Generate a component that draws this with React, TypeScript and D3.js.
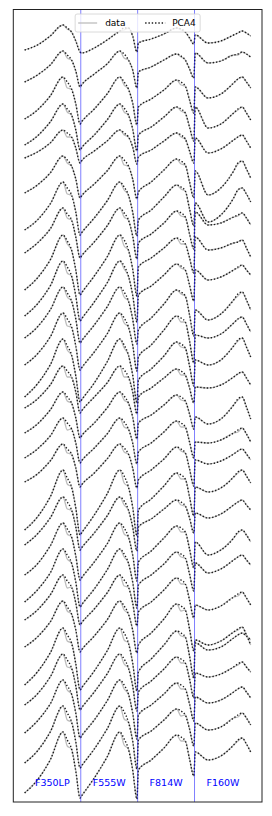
import React from "react";
import * as d3 from "d3";

// Filters (bands) concatenated along the x axis, 40 epochs each
const filters = ["F350LP", "F555W", "F814W", "F160W"];
const epochsPerFilter = 40;
const sampleEpochs = [0, 9, 18, 27, 30, 33, 36, 39];

// PCA4 reconstruction, offset magnitude per object (rows), per filter
const pcaF350LP = [
  [5.0, 4.5, 3.6, 2.5, 2.8, 3.2, 4.1, 5.2],
  [8.2, 7.5, 6.5, 5.1, 5.5, 6.0, 7.1, 8.7],
  [11.9, 11.0, 9.6, 7.7, 8.2, 8.9, 10.4, 12.4],
  [14.5, 13.6, 12.2, 10.4, 10.9, 11.5, 13.0, 15.0],
  [15.8, 15.2, 14.3, 13.0, 13.3, 13.7, 14.8, 16.3],
  [19.3, 18.5, 17.3, 15.6, 16.0, 16.6, 17.9, 19.8],
  [23.0, 22.0, 20.4, 18.2, 18.8, 19.5, 21.2, 23.5],
  [25.3, 24.3, 22.9, 20.8, 21.4, 22.0, 23.7, 25.8],
  [29.0, 27.8, 26.0, 23.5, 24.1, 25.0, 27.0, 29.5],
  [31.6, 30.4, 28.6, 26.1, 26.7, 27.6, 29.6, 32.1],
  [33.8, 32.7, 31.0, 28.7, 29.3, 30.1, 31.9, 34.3],
  [36.5, 35.4, 33.7, 31.3, 31.9, 32.7, 34.6, 37.0],
  [39.7, 38.4, 36.5, 33.9, 34.6, 35.5, 37.6, 40.2],
  [40.8, 39.9, 38.5, 36.6, 37.1, 37.7, 39.2, 41.3],
  [43.3, 42.4, 41.0, 39.2, 39.7, 40.3, 41.8, 43.8],
  [45.8, 44.9, 43.6, 41.8, 42.3, 42.9, 44.3, 46.3],
  [48.2, 47.4, 46.1, 44.4, 44.9, 45.4, 46.8, 48.7],
  [53.0, 51.7, 49.7, 47.0, 47.8, 48.7, 50.8, 53.5],
  [54.5, 53.4, 51.8, 49.7, 50.2, 51.0, 52.7, 55.0],
  [57.5, 56.4, 54.6, 52.3, 52.9, 53.7, 55.6, 58.0],
  [60.2, 59.0, 57.3, 54.9, 55.5, 56.3, 58.2, 60.7],
  [62.0, 61.0, 59.5, 57.5, 58.1, 58.7, 60.3, 62.5],
  [64.7, 63.7, 62.2, 60.1, 60.7, 61.4, 63.0, 65.2],
  [68.5, 67.2, 65.3, 62.8, 63.5, 64.3, 66.4, 69.0],
  [70.5, 69.4, 67.7, 65.4, 66.0, 66.8, 68.6, 71.0],
  [73.3, 72.1, 70.4, 68.0, 68.6, 69.4, 71.3, 73.8],
  [76.3, 75.1, 73.2, 70.6, 71.3, 72.2, 74.2, 76.8],
  [79.3, 78.0, 76.0, 73.2, 74.0, 74.9, 77.1, 79.8],
];

const pcaF555W = [
  [5.3, 4.8, 4.0, 3.1, 2.8, 2.8, 3.6, 5.2],
  [8.5, 7.4, 6.4, 5.1, 5.4, 6.0, 7.0, 8.8],
  [12.2, 10.9, 9.4, 7.7, 8.2, 8.9, 10.3, 12.5],
  [14.8, 13.5, 12.0, 10.4, 10.8, 11.5, 12.9, 15.1],
  [16.1, 15.1, 14.1, 13.0, 13.3, 13.7, 14.7, 16.4],
  [19.6, 18.4, 17.1, 15.6, 16.0, 16.6, 17.9, 19.9],
  [23.3, 21.8, 20.1, 18.2, 18.7, 19.5, 21.2, 23.6],
  [25.6, 24.2, 22.6, 20.8, 21.3, 22.0, 23.6, 25.9],
  [29.3, 27.6, 25.7, 23.5, 24.0, 25.0, 26.9, 29.6],
  [31.9, 30.2, 28.3, 26.1, 26.6, 27.6, 29.5, 32.2],
  [34.1, 32.5, 30.7, 28.7, 29.2, 30.1, 31.9, 34.4],
  [36.8, 35.2, 33.4, 31.3, 31.8, 32.7, 34.5, 37.1],
  [40.0, 38.3, 36.2, 33.9, 34.5, 35.5, 37.5, 40.3],
  [41.1, 39.7, 38.3, 36.6, 37.0, 37.7, 39.2, 41.4],
  [43.6, 42.3, 40.8, 39.2, 39.6, 40.3, 41.7, 43.9],
  [46.1, 44.8, 43.4, 41.8, 42.2, 42.9, 44.3, 46.4],
  [48.5, 47.3, 45.9, 44.4, 44.8, 45.4, 46.8, 48.8],
  [53.3, 51.5, 49.4, 47.0, 47.6, 48.7, 50.7, 53.6],
  [54.8, 53.3, 51.6, 49.7, 50.1, 51.0, 52.7, 55.1],
  [57.8, 56.2, 54.4, 52.3, 52.8, 53.7, 55.5, 58.1],
  [60.5, 58.9, 57.0, 54.9, 55.4, 56.3, 58.2, 60.8],
  [62.3, 60.9, 59.3, 57.5, 58.0, 58.7, 60.3, 62.6],
  [65.0, 63.6, 62.0, 60.1, 60.6, 61.4, 63.0, 65.3],
  [68.8, 67.1, 65.1, 62.8, 63.3, 64.3, 66.3, 69.1],
  [70.8, 69.2, 67.4, 65.4, 65.9, 66.8, 68.6, 71.1],
  [73.6, 72.0, 70.1, 68.0, 68.5, 69.4, 71.3, 73.9],
  [76.6, 74.9, 72.9, 70.6, 71.2, 72.2, 74.1, 76.9],
  [79.6, 77.8, 75.7, 73.2, 73.9, 74.9, 77.0, 79.9],
];

const pcaF814W = [
  [4.3, 3.9, 3.4, 2.8, 2.9, 3.2, 3.8, 4.4],
  [7.2, 6.7, 6.0, 5.4, 5.6, 6.0, 6.9, 7.8],
  [10.7, 9.9, 9.0, 8.0, 8.2, 8.6, 10.0, 11.3],
  [13.5, 12.7, 11.7, 10.7, 10.9, 11.3, 12.7, 14.1],
  [15.7, 15.0, 14.1, 13.3, 13.5, 13.9, 15.1, 16.3],
  [19.2, 18.2, 17.0, 15.9, 16.1, 16.5, 18.2, 19.8],
  [22.0, 21.0, 19.7, 18.5, 18.7, 19.1, 20.9, 22.6],
  [24.3, 23.4, 22.3, 21.1, 21.3, 21.7, 23.4, 24.9],
  [26.7, 25.8, 24.8, 23.8, 24.0, 24.4, 25.8, 27.3],
  [29.5, 28.6, 27.5, 26.4, 26.6, 27.0, 28.5, 30.1],
  [33.0, 31.8, 30.4, 29.0, 29.2, 29.6, 31.5, 33.6],
  [35.7, 34.5, 33.0, 31.6, 31.8, 32.2, 34.1, 36.3],
  [38.0, 36.9, 35.6, 34.2, 34.4, 34.8, 36.6, 38.6],
  [39.7, 38.8, 37.8, 36.9, 37.1, 37.5, 38.8, 40.3],
  [42.3, 41.5, 40.5, 39.5, 39.7, 40.1, 41.4, 42.9],
  [45.2, 44.3, 43.2, 42.1, 42.3, 42.7, 44.2, 45.8],
  [48.0, 47.0, 45.9, 44.7, 44.9, 45.3, 46.9, 48.6],
  [51.0, 49.9, 48.6, 47.3, 47.5, 47.9, 49.7, 51.6],
  [52.7, 51.9, 50.9, 50.0, 50.2, 50.6, 51.8, 53.3],
  [56.2, 55.1, 53.8, 52.6, 52.8, 53.2, 54.9, 56.8],
  [58.5, 57.5, 56.4, 55.2, 55.4, 55.8, 57.4, 59.1],
  [61.2, 60.2, 59.0, 57.8, 58.0, 58.4, 60.0, 61.8],
  [64.5, 63.3, 61.9, 60.4, 60.6, 61.0, 62.9, 65.1],
  [67.2, 65.9, 64.5, 63.1, 63.3, 63.7, 65.6, 67.8],
  [69.2, 68.1, 66.9, 65.7, 65.9, 66.3, 67.9, 69.8],
  [71.5, 70.5, 69.4, 68.3, 68.5, 68.9, 70.4, 72.1],
  [74.0, 73.1, 72.0, 70.9, 71.1, 71.5, 72.9, 74.6],
  [77.0, 76.0, 74.8, 73.5, 73.7, 74.1, 75.9, 77.6],
];

const pcaF160W = [
  [3.5, 4.3, 4.1, 3.5, 3.3, 3.1, 3.3, 3.6],
  [5.3, 6.3, 6.1, 5.5, 5.4, 5.2, 5.4, 5.7],
  [8.7, 9.8, 9.4, 8.3, 7.9, 7.7, 8.2, 8.8],
  [10.7, 12.8, 12.4, 11.3, 10.9, 10.7, 11.3, 12.0],
  [13.8, 15.3, 14.9, 14.0, 13.7, 13.5, 14.1, 14.8],
  [17.1, 19.5, 18.8, 17.1, 16.3, 16.1, 16.9, 17.8],
  [20.3, 22.2, 21.5, 19.8, 19.0, 18.8, 19.4, 20.2],
  [21.2, 22.5, 22.3, 21.7, 21.5, 21.3, 21.8, 22.5],
  [23.7, 25.0, 24.8, 24.3, 24.2, 24.0, 24.8, 25.7],
  [27.0, 28.0, 27.7, 27.0, 26.7, 26.5, 27.0, 27.5],
  [31.0, 32.0, 31.4, 30.0, 29.4, 29.2, 30.0, 31.0],
  [33.5, 33.8, 33.4, 32.3, 31.9, 31.7, 32.4, 33.2],
  [36.0, 36.5, 36.0, 34.6, 34.0, 33.8, 34.7, 35.7],
  [38.7, 38.8, 38.5, 37.7, 37.4, 37.2, 37.8, 38.5],
  [41.7, 42.4, 41.9, 40.5, 39.9, 39.7, 40.7, 41.9],
  [44.2, 44.3, 44.0, 43.3, 43.0, 42.8, 43.4, 44.2],
  [46.0, 46.4, 46.1, 45.4, 45.1, 44.9, 45.4, 46.0],
  [48.7, 49.2, 48.8, 47.7, 47.2, 47.0, 47.6, 48.3],
  [51.3, 51.8, 51.4, 50.5, 50.2, 50.0, 50.5, 51.0],
  [54.2, 55.5, 55.0, 53.8, 53.2, 53.0, 53.5, 54.2],
  [56.3, 57.3, 56.9, 56.0, 55.7, 55.5, 56.0, 56.5],
  [60.5, 61.0, 60.6, 59.7, 59.4, 59.2, 59.8, 60.5],
  [64.0, 64.5, 64.1, 63.2, 62.9, 62.7, 63.5, 64.5],
  [64.3, 65.0, 64.7, 63.8, 63.5, 63.3, 63.6, 64.0],
  [67.3, 67.7, 67.4, 66.7, 66.4, 66.2, 66.7, 67.2],
  [69.7, 70.3, 70.0, 69.2, 68.9, 68.7, 69.2, 69.8],
  [72.3, 73.0, 72.7, 71.8, 71.5, 71.3, 71.8, 72.5],
  [75.2, 76.0, 75.6, 74.5, 74.0, 73.8, 74.4, 75.2],
];

// observed data minus PCA4 just after peak (F350LP, F555W, F814W, F160W)
const dataResidual = [
  [0.1, 0.2, 0.1, 0.0], [0.3, 0.4, 0.1, 0.1], [0.6, 0.3, 0.3, 0.0], [0.3, 0.4, 0.2, 0.1],
  [0.4, 0.2, 0.2, 0.0], [0.3, 0.5, 0.3, 0.1], [0.6, 0.3, 0.2, 0.0], [0.4, 0.4, 0.3, 0.1],
  [0.3, 0.6, 0.4, 0.0], [0.6, 0.3, 0.2, 0.1], [0.4, 0.5, 0.2, 0.2], [0.7, 0.5, 0.4, 0.0],
  [0.4, 0.3, 0.3, 0.1], [0.6, 0.7, 0.4, 0.0], [0.4, 0.4, 0.3, 0.1], [0.7, 0.5, 0.4, 0.2],
  [0.4, 0.4, 0.2, 0.0], [0.6, 0.7, 0.4, 0.1], [0.7, 0.4, 0.3, 0.0], [0.5, 0.6, 0.4, 0.1],
  [0.4, 0.3, 0.3, 0.0], [0.7, 0.6, 0.4, 0.2], [0.4, 0.4, 0.5, 0.1], [0.6, 0.7, 0.3, 0.0],
  [0.7, 0.5, 0.4, 0.1], [0.4, 0.4, 0.4, 0.0], [0.7, 0.7, 0.5, 0.2], [0.6, 0.6, 0.4, 0.1],
];

const legendLabels = ["data", "PCA4"];

export default function App() {
  const W = 272;
  const H = 816;
  const frame = { left: 13.3, right: 262, top: 9.5, bottom: 802 };
  const nTot = epochsPerFilter * filters.length;
  const pad = (nTot - 1) * 0.05;
  const x = d3.scaleLinear().domain([-pad, nTot - 1 + pad]).range([frame.left, frame.right]);
  const y = d3.scaleLinear().domain([0.95, 80.2]).range([frame.top, frame.bottom]);

  const bands = [pcaF350LP, pcaF555W, pcaF814W, pcaF160W];
  const line = d3
    .line<[number, number]>()
    .x((d) => x(d[0]))
    .y((d) => y(d[1]))
    .curve(d3.curveMonotoneX);

  const rows = pcaF350LP.map((_, i) => {
    const pca: [number, number][] = [];
    const data: [number, number][] = [];
    bands.forEach((band, k) => {
      band[i].forEach((v, j) => {
        const e = k * epochsPerFilter + sampleEpochs[j];
        pca.push([e, v]);
        data.push([e, j === 4 ? v + dataResidual[i][k] : v]);
      });
    });
    return { pca, data };
  });

  const dividers = [1, 2, 3].map((k) => k * epochsPerFilter - 0.5);
  const font = "DejaVu Sans, sans-serif";
  const legendCx = (frame.left + frame.right) / 2;

  return (
    <svg width={W} height={H} style={{ position: "absolute", left: 0, top: 0 }}>
      <rect x={0} y={0} width={W} height={H} fill="white" />
      <defs>
        <clipPath id="plotclip">
          <rect x={frame.left} y={frame.top} width={frame.right - frame.left} height={frame.bottom - frame.top} />
        </clipPath>
      </defs>
      <g clipPath="url(#plotclip)">
        {rows.map((r, i) => (
          <g key={i}>
            <path d={line(r.data) || ""} fill="none" stroke="#bdbdbd" strokeWidth={1.3} />
            <path
              d={line(r.pca) || ""}
              fill="none"
              stroke="#1c1c1c"
              strokeWidth={1.4}
              strokeDasharray="1.4,1.9"
            />
          </g>
        ))}
        {dividers.map((d) => (
          <line key={d} x1={x(d)} x2={x(d)} y1={frame.top} y2={frame.bottom} stroke="#0000ff" strokeOpacity={0.5} strokeWidth={1} />
        ))}
      </g>
      {filters.map((f, k) => (
        <text
          key={f}
          x={x(k * epochsPerFilter + (epochsPerFilter - 1) / 2)}
          y={786}
          textAnchor="middle"
          fontFamily={font}
          fontSize={9.5}
          fill="#0000ff"
        >
          {f}
        </text>
      ))}
      <rect
        x={frame.left}
        y={frame.top}
        width={frame.right - frame.left}
        height={frame.bottom - frame.top}
        fill="none"
        stroke="#222"
        strokeWidth={1}
      />
      <g>
        <rect x={legendCx - 62.5} y={14} width={125} height={18} rx={2} fill="white" fillOpacity={0.8} stroke="#d0d0d0" strokeWidth={0.8} />
        <line x1={legendCx - 59.5} x2={legendCx - 40.5} y1={23} y2={23} stroke="#bdbdbd" strokeWidth={1.3} />
        <text x={legendCx - 32.5} y={26.3} fontFamily={font} fontSize={9} fill="#000">
          {legendLabels[0]}
        </text>
        <line x1={legendCx + 7.5} x2={legendCx + 27.5} y1={23} y2={23} stroke="#1c1c1c" strokeWidth={1.4} strokeDasharray="1.4,1.9" />
        <text x={legendCx + 34.5} y={26.3} fontFamily={font} fontSize={9} fill="#000">
          {legendLabels[1]}
        </text>
      </g>
    </svg>
  );
}
